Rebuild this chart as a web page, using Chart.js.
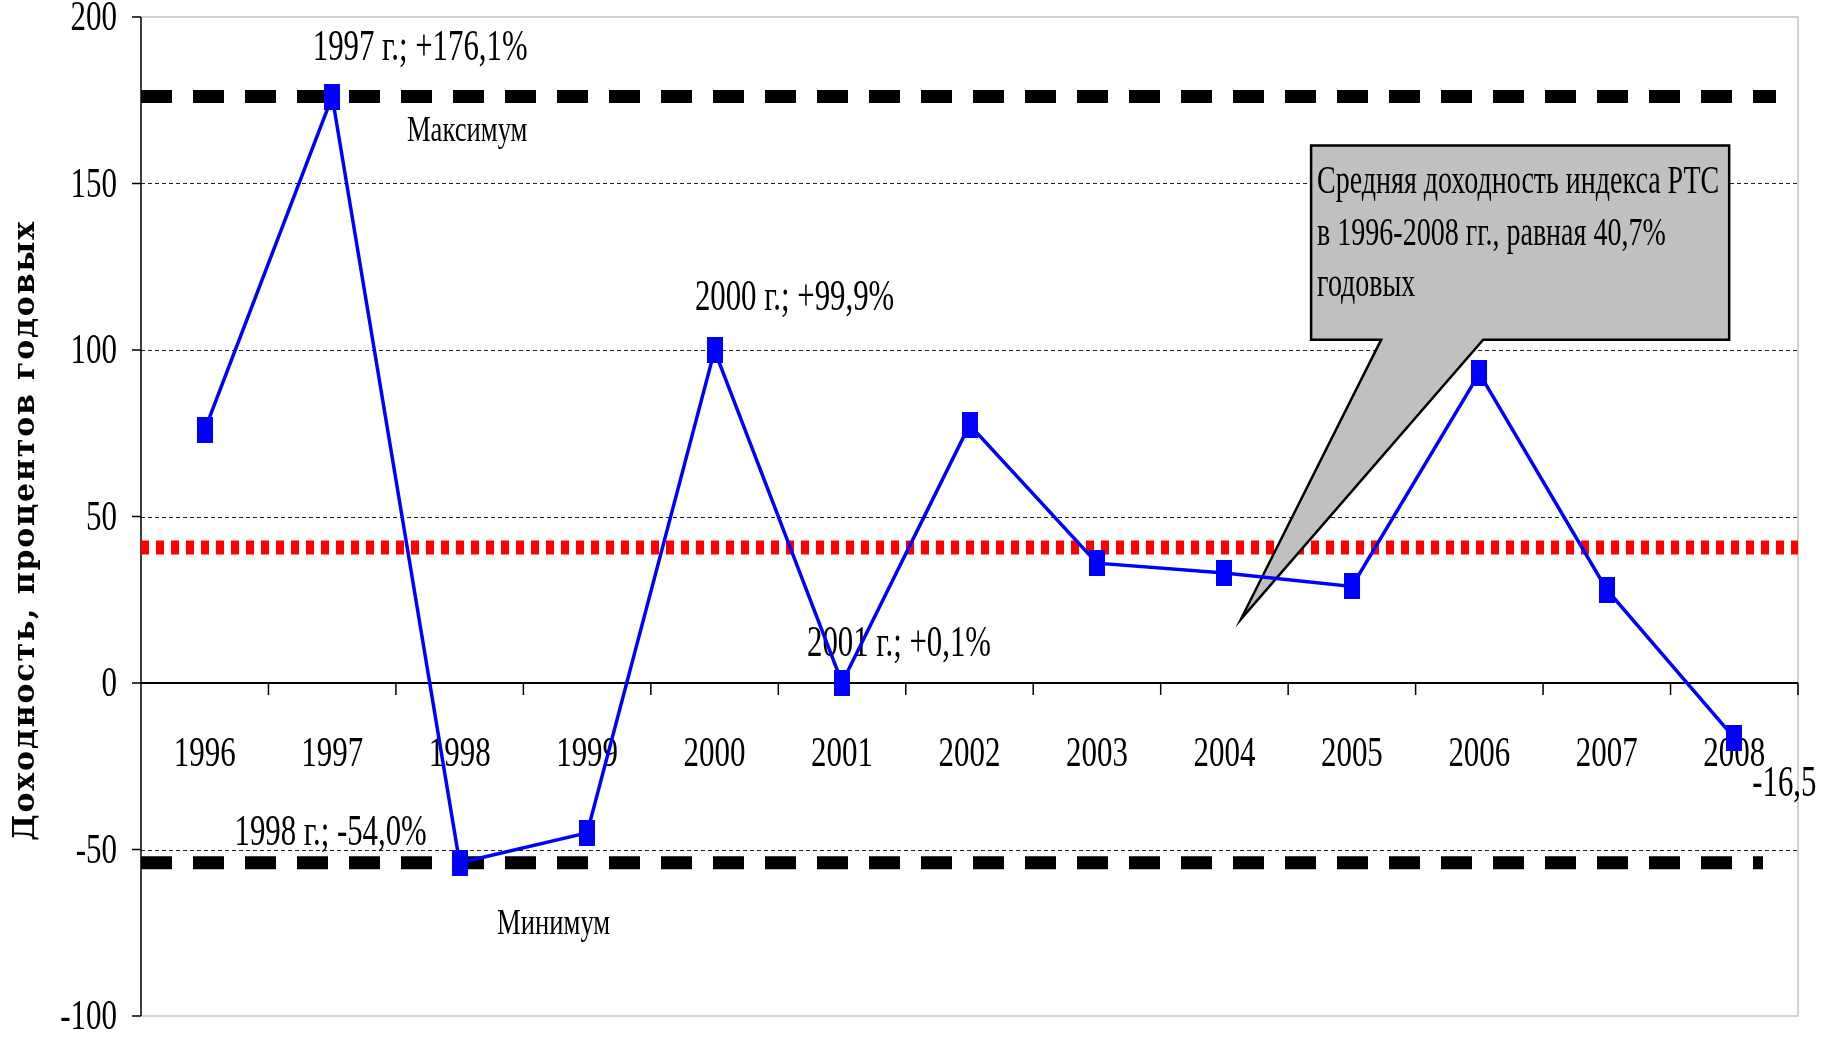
<!DOCTYPE html>
<html>
<head>
<meta charset="utf-8">
<script src="https://cdn.jsdelivr.net/npm/chart.js@4.4.0/dist/chart.umd.min.js"></script>
<style>
  html, body { margin: 0; padding: 0; background: #ffffff; }
  #wrap { width: 1831px; height: 1041px; position: relative; }
</style>
</head>
<body>
<div id="wrap"><canvas id="chart" width="1831" height="1041"></canvas></div>
<script>
// Годовая доходность индекса РТС, % годовых
const years = ['1996', '1997', '1998', '1999', '2000', '2001', '2002', '2003', '2004', '2005', '2006', '2007', '2008'];
const returns = [76, 176.1, -54.0, -45, 99.9, 0.1, 77.5, 36, 33, 29, 93, 28, -16.5];

const yTicks = [200, 150, 100, 50, 0, -50, -100];
const yTickLabels = ['200', '150', '100', '50', '0', '-50', '-100'];

const meanReturn = 40.7;
const maxReturn = 176.1;
const minReturn = -54.0;

const axisTitle = 'Доходность, процентов годовых';
const maxLabel = 'Максимум';
const minLabel = 'Минимум';
const label1997 = '1997 г.; +176,1%';
const label1998 = '1998 г.; -54,0%';
const label2000 = '2000 г.; +99,9%';
const label2001 = '2001 г.; +0,1%';
const label2008 = '-16,5';
const calloutLines = ['Средняя доходность индекса РТС', 'в 1996-2008 гг., равная 40,7%', 'годовых'];

const SERIF = '"Liberation Serif", "Times New Roman", serif';

function squeezedText(ctx, text, x, y, size, align, sx) {
  ctx.save();
  ctx.font = size + 'px ' + SERIF;
  ctx.fillStyle = '#000000';
  ctx.textAlign = align;
  ctx.textBaseline = 'middle';
  ctx.translate(x, y);
  ctx.scale(sx, 1);
  ctx.fillText(text, 0, 0);
  ctx.restore();
}

function hLine(ctx, x1, x2, y, width, color, dash) {
  ctx.save();
  ctx.beginPath();
  ctx.lineWidth = width;
  ctx.strokeStyle = color;
  ctx.setLineDash(dash || []);
  ctx.moveTo(x1, y);
  ctx.lineTo(x2, y);
  ctx.stroke();
  ctx.restore();
}

// tall rectangular marker
function rectMarker(w, h, color) {
  const c = document.createElement('canvas');
  c.width = w; c.height = h;
  const g = c.getContext('2d');
  g.fillStyle = color;
  g.fillRect(0, 0, w, h);
  return c;
}

const framePlugin = {
  id: 'frame',
  beforeDatasetsDraw(chart) {
    const ctx = chart.ctx;
    const xs = chart.scales.x, ys = chart.scales.y;
    const a = chart.chartArea;
    const y0 = ys.getPixelForValue(0);

    // plot border (light grey)
    ctx.save();
    ctx.strokeStyle = '#c4c4c4';
    ctx.lineWidth = 1.5;
    ctx.beginPath();
    ctx.moveTo(a.left, a.top); ctx.lineTo(a.right, a.top);
    ctx.lineTo(a.right, a.bottom); ctx.lineTo(a.left, a.bottom);
    ctx.stroke();
    ctx.restore();

    // dashed grid lines
    yTicks.forEach(v => {
      if (v === 0 || v === yTicks[0] || v === yTicks[yTicks.length - 1]) return;
      hLine(ctx, a.left, a.right, Math.round(ys.getPixelForValue(v)) + 0.5, 1, '#222222', [4, 3]);
    });

    // value axis with ticks and labels
    ctx.save();
    ctx.strokeStyle = '#000000';
    ctx.lineWidth = 1.5;
    ctx.beginPath();
    ctx.moveTo(a.left, a.top); ctx.lineTo(a.left, a.bottom);
    yTicks.forEach(v => {
      const y = ys.getPixelForValue(v);
      ctx.moveTo(a.left - 9, y); ctx.lineTo(a.left, y);
    });
    ctx.stroke();
    ctx.restore();
    yTicks.forEach((v, i) => {
      squeezedText(ctx, yTickLabels[i], a.left - 24, ys.getPixelForValue(v) + 2, 43, 'right', 0.72);
    });

    // category axis along zero
    hLine(ctx, a.left, a.right, y0, 2, '#000000');
    ctx.save();
    ctx.strokeStyle = '#000000';
    ctx.lineWidth = 1.5;
    ctx.beginPath();
    for (let i = 0; i < years.length; i++) {
      const xb = xs.getPixelForValue(i + 0.5);
      ctx.moveTo(xb, y0); ctx.lineTo(xb, y0 + 12);
    }
    ctx.stroke();
    ctx.restore();
    years.forEach((yr, i) => {
      squeezedText(ctx, yr, xs.getPixelForValue(i), y0 + 72, 43, 'center', 0.72);
    });

    // mean line (red dots)
    hLine(ctx, a.left, a.right, ys.getPixelForValue(meanReturn), 14, '#ff0000', [8, 7]);

    // maximum and minimum lines (black dashes)
    hLine(ctx, a.left, a.right - 22, ys.getPixelForValue(maxReturn), 13, '#000000', [31, 21]);
    hLine(ctx, a.left, a.right - 35, ys.getPixelForValue(minReturn), 13, '#000000', [31, 21]);

    // callout with the mean value
    const bx1 = xs.getPixelForValue(8.68), bx2 = xs.getPixelForValue(11.96);
    const by1 = ys.getPixelForValue(161.4), by2 = ys.getPixelForValue(103.1);
    const wx1 = xs.getPixelForValue(9.23), wx2 = xs.getPixelForValue(10.03);
    const tx = xs.getPixelForValue(8.13), ty = ys.getPixelForValue(19.2);
    ctx.save();
    ctx.beginPath();
    ctx.moveTo(bx1, by1);
    ctx.lineTo(bx2, by1);
    ctx.lineTo(bx2, by2);
    ctx.lineTo(wx2, by2);
    ctx.lineTo(tx, ty);
    ctx.lineTo(wx1, by2);
    ctx.lineTo(bx1, by2);
    ctx.closePath();
    ctx.fillStyle = '#c0c0c0';
    ctx.fill();
    ctx.lineWidth = 2.5;
    ctx.strokeStyle = '#000000';
    ctx.lineJoin = 'miter';
    ctx.stroke();
    ctx.restore();
    calloutLines.forEach((t, i) => {
      squeezedText(ctx, t, bx1 + 6, by1 + 37 + i * 51.5, 40, 'left', 0.7);
    });

    // point annotations
    const px = i => xs.getPixelForValue(i);
    const py = v => ys.getPixelForValue(v);
    squeezedText(ctx, label1997, px(1) + 88, py(returns[1]) - 48, 44, 'center', 0.7);
    squeezedText(ctx, maxLabel, px(1) + 135, py(maxReturn) + 35, 36, 'center', 0.74);
    squeezedText(ctx, label2000, px(4) + 80, py(returns[4]) - 52, 44, 'center', 0.7);
    squeezedText(ctx, label2001, px(5) + 57, py(returns[5]) - 38, 44, 'center', 0.7);
    squeezedText(ctx, label1998, px(2) - 129, py(returns[2]) - 29, 44, 'center', 0.7);
    squeezedText(ctx, minLabel, px(2) + 94, py(minReturn) + 62, 36, 'center', 0.74);
    squeezedText(ctx, label2008, px(12) + 18, py(returns[12]) + 46, 44, 'left', 0.7);

    // rotated axis title (bold slab serif, spread along the axis)
    ctx.save();
    ctx.translate(26, (a.top + a.bottom) / 2 + 14);
    ctx.rotate(-Math.PI / 2);
    ctx.font = 'bold 30px "DejaVu Serif", "Liberation Serif", serif';
    ctx.fillStyle = '#000000';
    ctx.textAlign = 'center';
    ctx.textBaseline = 'middle';
    const natural = ctx.measureText(axisTitle).width;
    const spacing = (619 - natural) / (axisTitle.length - 1);
    ctx.letterSpacing = spacing.toFixed(2) + 'px';
    ctx.fillText(axisTitle, 0, 0);
    ctx.restore();
  }
};

const chart = new Chart(document.getElementById('chart').getContext('2d'), {
  type: 'line',
  data: {
    labels: years,
    datasets: [{
      data: returns,
      borderColor: '#0000ff',
      backgroundColor: '#0000ff',
      borderWidth: 3.5,
      tension: 0,
      fill: false,
      pointStyle: rectMarker(16, 26, '#0000ff'),
      pointRadius: 10,
      pointHoverRadius: 10
    }]
  },
  options: {
    responsive: false,
    animation: false,
    events: [],
    layout: { padding: { left: 141, right: 33, top: 17, bottom: 25 } },
    plugins: { legend: { display: false }, tooltip: { enabled: false } },
    scales: {
      x: { type: 'category', offset: true, display: false },
      y: { type: 'linear', min: -100, max: 200, display: false }
    }
  },
  plugins: [framePlugin]
});
</script>
</body>
</html>
